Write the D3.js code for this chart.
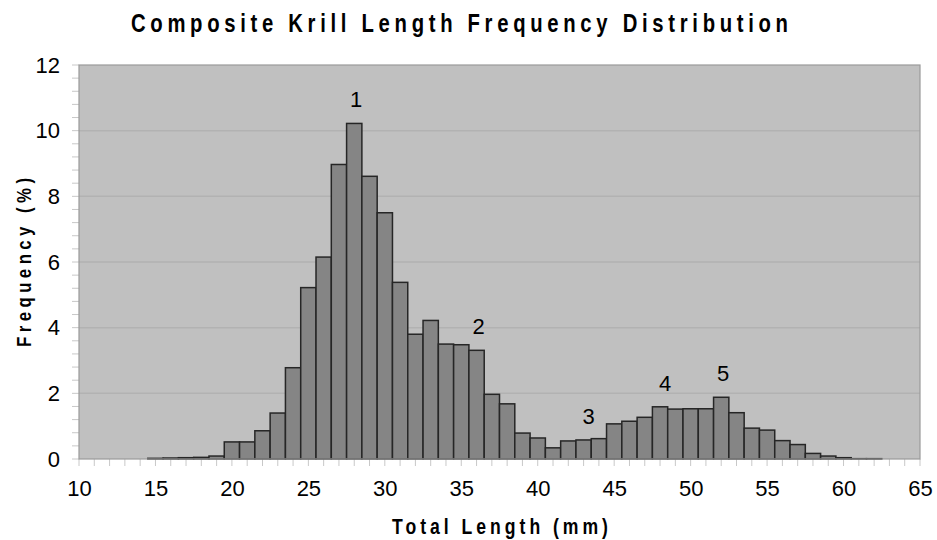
<!DOCTYPE html>
<html>
<head>
<meta charset="utf-8">
<script src="https://cdn.jsdelivr.net/npm/d3@7"></script>
<style>
  html, body { margin: 0; padding: 0; background: #ffffff; }
  svg { display: block; }
  text { font-family: "Liberation Sans", Arial, sans-serif; fill: #000; }
  .heading { font-weight: bold; }
</style>
</head>
<body>
<svg id="chart" width="937" height="540"></svg>
<script>
// Length bins (mm) and percentage frequency per bin
const lengthBins = [15, 16, 17, 18, 19, 20, 21, 22, 23, 24, 25, 26, 27, 28, 29, 30, 31, 32, 33, 34, 35, 36, 37, 38,
  39, 40, 41, 42, 43, 44, 45, 46, 47, 48, 49, 50, 51, 52, 53, 54, 55, 56, 57, 58, 59, 60, 61, 62];
const frequency = [0.02, 0.03, 0.04, 0.05, 0.09, 0.52, 0.52, 0.86, 1.40, 2.78, 5.22, 6.15, 8.97, 10.22, 8.61, 7.50,
  5.38, 3.80, 4.22, 3.50, 3.48, 3.31, 1.97, 1.68, 0.79, 0.64, 0.34, 0.55, 0.58, 0.62, 1.07, 1.15, 1.27, 1.59, 1.52,
  1.53, 1.53, 1.88, 1.41, 0.94, 0.88, 0.56, 0.44, 0.17, 0.09, 0.04, 0.01, 0.01];

// Cohort (mode) labels and the bin each one sits above
const modeLabels = ["1", "2", "3", "4", "5"];
const modeBins = [28, 36, 43.2, 48.2, 52];

const xTicks = [10, 15, 20, 25, 30, 35, 40, 45, 50, 55, 60, 65];
const yTicks = [0, 2, 4, 6, 8, 10, 12];

const bins = lengthBins.map((mm, i) => ({ mm, f: frequency[i] }));

const svg = d3.select("#chart");
const plotLeft = 79, plotRight = 920, plotTop = 65, plotBottom = 459;

const x = d3.scaleLinear().domain([10, 65]).range([plotLeft, plotRight]);
const y = d3.scaleLinear().domain([0, 12]).range([plotBottom, plotTop]);

// Plot background
svg.append("rect")
  .attr("x", plotLeft).attr("y", plotTop)
  .attr("width", plotRight - plotLeft).attr("height", plotBottom - plotTop)
  .attr("fill", "#c0c0c0");

// Horizontal gridlines
svg.append("g").selectAll("line")
  .data(yTicks.filter(v => v > 0 && v < 12))
  .join("line")
  .attr("x1", plotLeft).attr("x2", plotRight)
  .attr("y1", d => y(d)).attr("y2", d => y(d))
  .attr("stroke", "#b2b2b2").attr("stroke-width", 1.5);

// Minor ticks on the y axis (every 0.4 %)
const yMinor = d3.range(0, 12.001, 0.4);
svg.append("g").selectAll("line")
  .data(yMinor)
  .join("line")
  .attr("x1", plotLeft - 7).attr("x2", plotLeft)
  .attr("y1", d => y(d)).attr("y2", d => y(d))
  .attr("stroke", "#c8c8c8").attr("stroke-width", 1);

// Minor ticks on the x axis (every 1 mm)
const xMinor = d3.range(10, 65.001, 1);
svg.append("g").selectAll("line")
  .data(xMinor)
  .join("line")
  .attr("x1", d => x(d)).attr("x2", d => x(d))
  .attr("y1", plotBottom).attr("y2", plotBottom + 7)
  .attr("stroke", "#c8c8c8").attr("stroke-width", 1);

// Histogram bars, one per 1 mm bin centred on the bin value
svg.append("g").selectAll("rect")
  .data(bins)
  .join("rect")
  .attr("x", d => x(d.mm - 0.5))
  .attr("y", d => y(d.f))
  .attr("width", d => x(d.mm + 0.5) - x(d.mm - 0.5))
  .attr("height", d => y(0) - y(d.f))
  .attr("fill", "#858585")
  .attr("stroke", "#262626")
  .attr("stroke-width", 1.5);

// Plot frame
svg.append("rect")
  .attr("x", plotLeft).attr("y", plotTop)
  .attr("width", plotRight - plotLeft).attr("height", plotBottom - plotTop)
  .attr("fill", "none")
  .attr("stroke", "#9a9a9a").attr("stroke-width", 1.2);

// Axis tick labels via d3 axes (tick lines hidden)
const xAxis = d3.axisBottom(x).tickValues(xTicks).tickSize(0).tickPadding(21);
const gx = svg.append("g").attr("transform", `translate(0,${plotBottom})`).call(xAxis);
gx.select(".domain").remove();
gx.selectAll("text")
  .style("font-family", '"Liberation Sans", Arial, sans-serif')
  .style("font-size", "22px").attr("fill", "#000");

const yAxis = d3.axisLeft(y).tickValues(yTicks).tickSize(0).tickPadding(19);
const gy = svg.append("g").attr("transform", `translate(${plotLeft},0)`).call(yAxis);
gy.select(".domain").remove();
gy.selectAll("text")
  .style("font-family", '"Liberation Sans", Arial, sans-serif')
  .style("font-size", "22px").attr("fill", "#000");

// Mode labels above the peaks
const freqByBin = new Map(bins.map(d => [d.mm, d.f]));
svg.append("g").selectAll("text")
  .data(modeLabels.map((t, i) => ({ t, mm: modeBins[i] })))
  .join("text")
  .attr("x", d => x(d.mm) + 2)
  .attr("y", d => y(freqByBin.get(Math.round(d.mm))) - 16)
  .attr("text-anchor", "middle")
  .style("font-size", "22px")
  .text(d => d.t);

// Condensed, letter-spaced heading text: glyphs squeezed horizontally,
// then spread to the requested overall length.
function heading(transform, length, size, squeeze, label) {
  svg.append("g")
    .attr("transform", `${transform} scale(${squeeze},1)`)
    .append("text")
    .attr("class", "heading")
    .attr("x", 0).attr("y", 0)
    .attr("textLength", length / squeeze).attr("lengthAdjust", "spacing")
    .style("font-size", `${size}px`)
    .text(label);
}

heading("translate(131,32)", 657, 26, 0.78, "Composite Krill Length Frequency Distribution");
heading("translate(392,534)", 216, 22, 0.8, "Total Length  (mm)");
heading("translate(31,347) rotate(-90)", 169, 21, 0.8, "Frequency  (%)");
</script>
</body>
</html>
